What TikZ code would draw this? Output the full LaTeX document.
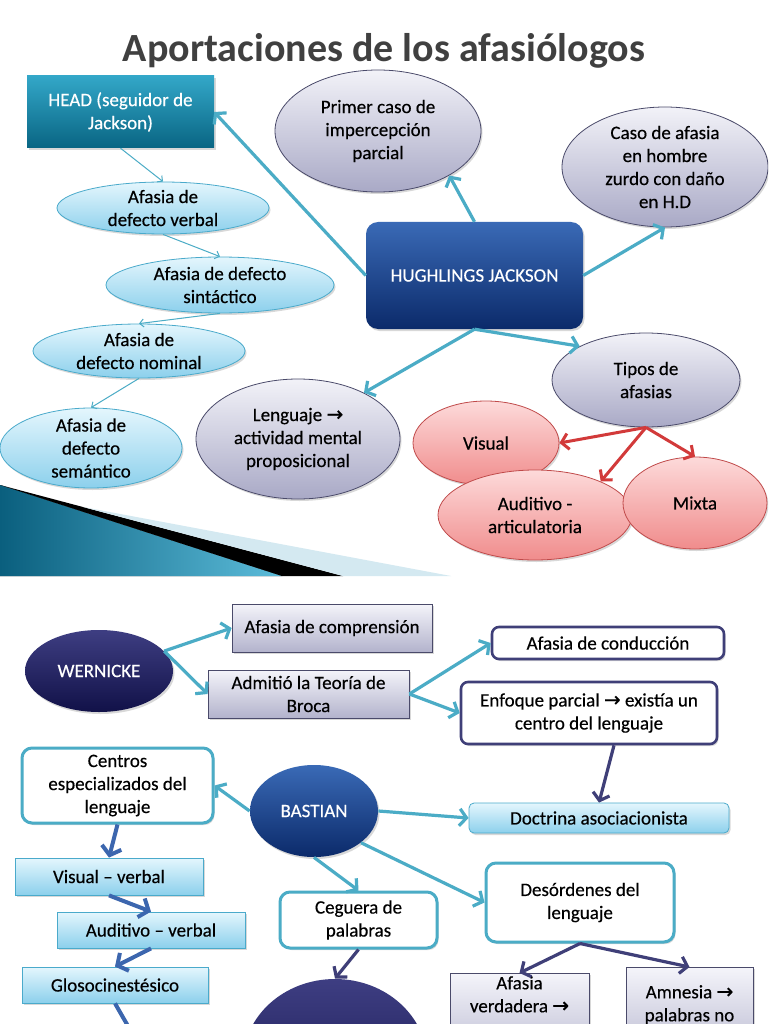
\documentclass[tikz,border=0pt]{standalone}
\usepackage{fontspec}
\setmainfont{Carlito}
\newfontfamily\heavy{Carlito}[FakeBold=0.35]
\newfontfamily\dejavu{DejaVu Sans}[FakeBold=0.8]
\usetikzlibrary{shapes.geometric,arrows.meta,shadows}
\definecolor{tealA}{HTML}{4BACC6}
\definecolor{redA}{HTML}{D23A3A}
\definecolor{navyA}{HTML}{3F3F78}
\definecolor{blueA}{HTML}{3C66AE}
\definecolor{lbTop}{HTML}{E4F6FD}
\definecolor{lbBot}{HTML}{8CD0EC}
\definecolor{lbBorder}{HTML}{4AAACB}
\definecolor{lavTop}{HTML}{F2F2F8}
\definecolor{lavBot}{HTML}{A9A9C6}
\definecolor{lavBorder}{HTML}{4A4A6A}
\definecolor{redTop}{HTML}{FDDADA}
\definecolor{redBot}{HTML}{F08C8C}
\definecolor{redBorder}{HTML}{C04A4A}
\definecolor{navyTop}{HTML}{3E3E82}
\definecolor{navyBot}{HTML}{111148}
\definecolor{dbTop}{HTML}{3A6AB6}
\definecolor{dbBot}{HTML}{0B2A6A}
\definecolor{headTop}{HTML}{33A7C8}
\definecolor{headBot}{HTML}{096583}
\definecolor{titleC}{HTML}{404040}
\definecolor{bandDark}{HTML}{0A5F7E}
\definecolor{bandLight}{HTML}{5CBCDA}
\definecolor{bandPale}{HTML}{D4E9F1}
\definecolor{rlTop}{HTML}{F4F4FA}
\definecolor{rlBot}{HTML}{B3B3CC}
\newcommand\myNodeFont{\heavy\fontsize{19}{23}\selectfont}
\newcommand\myArrow{{\dejavu\fontsize{20}{23}\selectfont →}}
\begin{document}
\begin{tikzpicture}[x=1pt,y=-1pt,
 shd/.style={drop shadow={opacity=0.3,shadow xshift=1.5pt,shadow yshift=-2pt}},
 lbl/.style={align=center,font=\myNodeFont,inner sep=0pt,text=black},
 txt/.style={label={[lbl]center:#1}},
 wtxt/.style={label={[lbl,text=white]center:#1}},
 ell/.style={ellipse,inner sep=0pt,shd,line width=0.8pt},
 ellLB/.style={ell,draw=lbBorder,top color=lbTop,bottom color=lbBot},
 ellLav/.style={ell,draw=lavBorder,top color=lavTop,bottom color=lavBot},
 ellRed/.style={ell,draw=redBorder,top color=redTop,bottom color=redBot},
 ellNavy/.style={ell,draw=none,top color=navyTop,bottom color=navyBot},
 ellDB/.style={ell,draw=none,top color=dbTop,bottom color=dbBot},
 box/.style={rectangle,inner sep=2pt,align=center,font=\myNodeFont,shd},
 rectLav/.style={box,draw=lavBorder,line width=0.8pt,top color=rlTop,bottom color=rlBot},
 rectLB/.style={box,draw=lbBorder,line width=0.8pt,top color=lbTop,bottom color=lbBot},
 rndLB/.style={rectLB,rounded corners=5pt},
 rndNavy/.style={box,fill=white,draw=navyA,line width=2.6pt,rounded corners=7pt},
 rndTeal/.style={box,fill=white,draw=tealA,line width=3pt,rounded corners=10pt},
 tarr/.style={draw=tealA,line width=3.2pt,-{Straight Barb[length=7pt,width=17pt]}},
 tharr/.style={draw=tealA,line width=1pt,-{Straight Barb[length=4pt,width=8pt]}},
 rarr/.style={draw=redA,line width=3pt,-{Straight Barb[length=7pt,width=16pt]}},
 narr/.style={draw=navyA,line width=3.2pt,-{Straight Barb[length=7pt,width=17pt]}},
 barr/.style={draw=blueA,line width=4pt,-{Straight Barb[length=8pt,width=20pt]}},
]
\useasboundingbox (0,0) rectangle (768,1024);
\clip (0,0) rectangle (768,1024);
\fill[white] (0,0) rectangle (768,1024);

% decorative band of the first slide
\fill[left color=bandDark,right color=bandLight] (0,485) -- (282,576) -- (0,576) -- cycle;
\fill[black] (0,485) -- (343,576) -- (282,576) -- cycle;
\fill[bandPale] (83,507) -- (451,576) -- (343,576) -- cycle;

% title
\node[font=\fontsize{40}{40}\selectfont\bfseries,text=titleC,anchor=base,inner sep=0pt] (title) at (384,62) {Aportaciones de los afasiólogos};

% ===== slide 1 =====
\node[box,draw=none,top color=headTop,bottom color=headBot,text=white,minimum width=187pt,minimum height=72pt] (head) at (120.5,112) {HEAD (seguidor de\\Jackson)};
\node[ellLav,minimum width=206pt,minimum height=122pt,txt={Primer caso de\\impercepción\\parcial}] (prim) at (378,131) {};
\node[ellLav,minimum width=206pt,minimum height=120pt,txt={Caso de afasia\\en hombre\\zurdo con daño\\en H.D}] (caso) at (665,167) {};
\node[box,draw=none,rounded corners=12pt,top color=dbTop,bottom color=dbBot,text=white,minimum width=217pt,minimum height=107pt] (jack) at (474.5,275.5) {HUGHLINGS JACKSON};
\node[ellLB,minimum width=212pt,minimum height=52pt,txt={Afasia de\\defecto verbal}] (verbal) at (163,208) {};
\node[ellLB,minimum width=228pt,minimum height=56pt,txt={Afasia de defecto\\sintáctico}] (sint) at (220,285) {};
\node[ellLB,minimum width=212pt,minimum height=54pt,txt={Afasia de\\defecto nominal}] (nominal) at (139,351) {};
\node[ellLB,minimum width=182pt,minimum height=80pt,txt={Afasia de\\defecto\\semántico}] (sem) at (91,448) {};
\node[ellLav,minimum width=204pt,minimum height=120pt,txt={Lenguaje \myArrow\\actividad mental\\proposicional}] (len) at (298,439) {};
\node[ellLav,minimum width=188pt,minimum height=94pt,txt={Tipos de\\afasias}] (tipos) at (646,380) {};
\node[ellRed,minimum width=146pt,minimum height=84pt,txt={Visual}] (vis) at (486,443) {};
\node[ellRed,minimum width=194pt,minimum height=90pt,txt={Auditivo -\\articulatoria}] (aud) at (535,515) {};
\node[ellRed,minimum width=144pt,minimum height=92pt,txt={Mixta}] (mix) at (695,503) {};

\draw[tharr] (head.south) -- (verbal.north);
\draw[tharr] (verbal.south) -- (sint.north);
\draw[tharr] (sint.south) -- (nominal.north);
\draw[tharr] (nominal.south) -- (sem.north);
\draw[tarr] (jack.west) -- (head.east);
\draw[tarr] (jack.north) -- (prim.-32);
\draw[tarr] (jack.east) -- (caso.south);
\draw[tarr] (jack.south) -- (len.35);
\draw[tarr] (jack.south) -- (tipos.153);
\draw[rarr] (tipos.south) -- (vis.east);
\draw[rarr] (tipos.south) -- (aud.27);
\draw[rarr] (tipos.south) -- (mix.north);

% ===== slide 2 =====
\node[ellNavy,minimum width=148pt,minimum height=82pt,wtxt={WERNICKE}] (wern) at (99,671) {};
\node[rectLav,minimum width=200pt,minimum height=48pt] (comp) at (332,628) {Afasia de comprensión};
\node[rectLav,minimum width=201pt,minimum height=48pt] (adm) at (308.5,694) {Admitió la Teoría de\\Broca};
\node[rndNavy,minimum width=232pt,minimum height=32pt] (cond) at (608,643) {Afasia de conducción};
\node[rndNavy,minimum width=256pt,minimum height=62pt] (enf) at (589,713) {Enfoque parcial \myArrow\ existía un\\centro del lenguaje};
\node[rndLB,minimum width=260pt,minimum height=30pt] (doc) at (599,818) {Doctrina asociacionista};
\node[rndTeal,minimum width=191pt,minimum height=75pt] (centros) at (117.5,785.5) {Centros\\especializados del\\lenguaje};
\node[ellDB,minimum width=128pt,minimum height=92pt,wtxt={BASTIAN}] (bast) at (314,811) {};
\node[rectLB,minimum width=188pt,minimum height=37pt] (visv) at (109,876.5) {Visual – verbal};
\node[rectLB,minimum width=188pt,minimum height=36pt] (audv) at (151,930) {Auditivo – verbal};
\node[rectLB,minimum width=186pt,minimum height=36pt] (glo) at (115,985) {Glosocinestésico};
\node[rndTeal,minimum width=157pt,minimum height=56pt] (ceg) at (358.5,920) {Ceguera de\\palabras};
\node[rndTeal,minimum width=188pt,minimum height=79pt] (des) at (580,902.5) {Desórdenes del\\lenguaje};
\node[rectLav,anchor=north,minimum width=139pt,minimum height=100pt,label={[lbl,anchor=north,yshift=-3pt]north:{Afasia\\verdadera \myArrow}}] (afv) at (519.5,973) {};
\node[rectLav,anchor=north,minimum width=127pt,minimum height=100pt,label={[lbl,anchor=north,yshift=-18pt]north:{Amnesia \myArrow\\palabras no}}] (amn) at (689.5,967) {};
\node[ellNavy,minimum width=184pt,minimum height=166pt] (bot) at (335,1062) {};
\coordinate (gloend) at (136,1040);

\draw[tarr] (wern.17) -- (comp.west);
\draw[tarr] (wern.17) -- (adm.west);
\draw[tarr] (adm.east) -- (cond.west);
\draw[tarr] (adm.east) -- (enf.west);
\draw[narr] ([xshift=25pt]enf.south) -- (doc.north);
\draw[tarr] (bast.west) -- (centros.east);
\draw[tarr] (bast.east) -- (doc.west);
\draw[tarr] (bast.south) -- (ceg.north);
\draw[tarr] (bast.-34) -- (des.west);
\draw[barr] (centros.south) -- (visv.north);
\draw[barr] (visv.south) -- (audv.north);
\draw[barr] (audv.south) -- (glo.north);
\draw[barr] (glo.south) -- (gloend);
\draw[narr] (ceg.south) -- (bot.north);
\draw[narr] (des.south) -- (afv.north);
\draw[narr] (des.south) -- (amn.north);
\end{tikzpicture}
\end{document}
